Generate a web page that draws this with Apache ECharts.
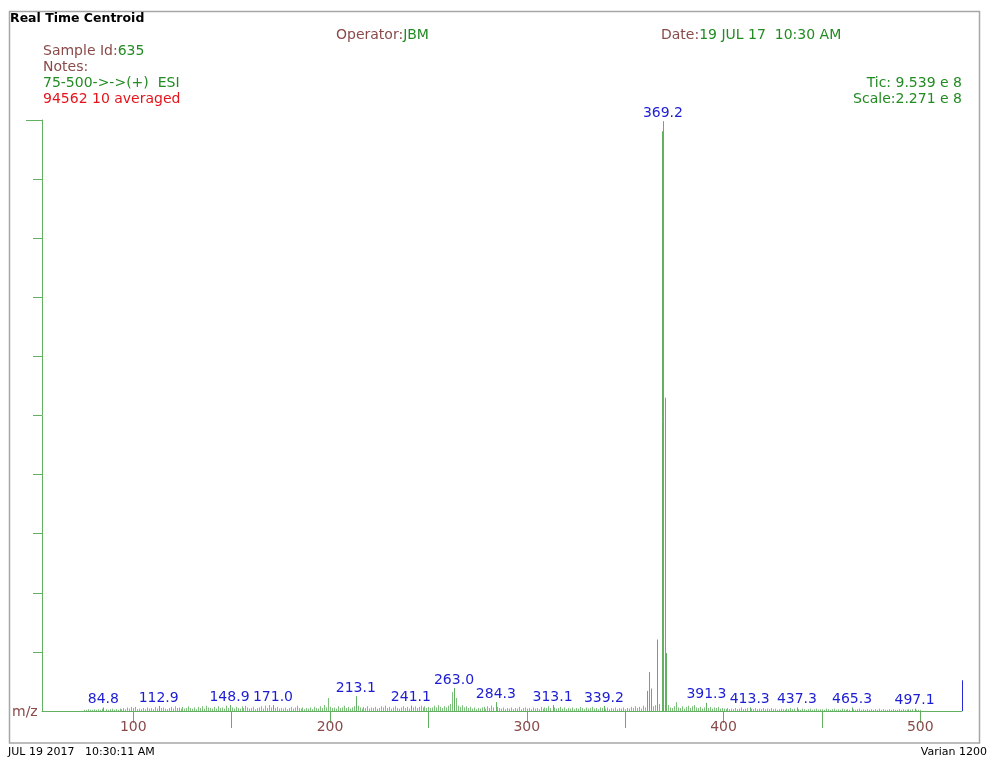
<!DOCTYPE html>
<html>
<head>
<meta charset="utf-8">
<script src="https://cdn.jsdelivr.net/npm/echarts@6/dist/echarts.min.js"></script>
<style>
  html, body { margin: 0; padding: 0; background: #fff; }
  #main { width: 988px; height: 759px; }
</style>
</head>
<body>
<div id="main"></div>
<script>
// Scan window shown on the m/z axis
const mzMin = 53.6;
const mzMax = 521.2;

// Labelled centroids: [m/z, % of full scale]
const labelledPeaks = [
  [84.8, 0.6], [112.9, 0.85], [148.9, 1.0], [171.0, 1.0], [213.1, 2.5],
  [241.1, 0.9], [263.0, 3.9], [284.3, 1.5], [313.1, 1.0], [339.2, 0.85],
  [369.2, 99.8], [391.3, 1.4], [413.3, 0.6], [437.3, 0.6], [465.3, 0.6], [497.1, 0.4]
];

// Unlabelled centroids around the base peak: [m/z, % of full scale]
const clusterPeaks = [
  [361.0, 3.4], [362.0, 6.6], [363.0, 3.8], [366.0, 12.1],
  [368.5, 98.1], [370.0, 53.0], [371.0, 9.8]
];

// Background centroids, one per nominal mass starting at noiseStart (% of full scale)
const noiseStart = 75;
const noise = [
  0.2,0.2,0.3,0.2,0.2,0.3,0.2,0.3,0.2,0.4,0,0.3,0.2,0.3,0.4,0.2,0.3,0.2,0.4,0.3,0.5,0.3,0.6,0.4,0.7,
  0.5,0.7,0.3,0.4,0.3,0.5,0.3,0.6,0.4,0.5,0.3,0.7,0.4,0,0.5,0.6,0.4,0.3,0.5,0.7,0.4,0.8,0.5,0.6,0.4,
  0.7,0.4,0.5,0.8,0.5,0.4,0.6,0.3,0.7,0.5,0.8,0.4,0.9,0.6,0.5,0.4,0.7,0.4,0.8,0.5,0.6,0.4,0.9,0.5,0,
  0.6,0.4,0.7,0.5,0.4,0.8,0.5,0.9,0.6,0.4,0.5,0.7,0.3,0.5,0.6,0.8,0.4,0.9,0.5,1.0,0.6,0,0.5,0.7,0.4,
  0.5,0.4,0.6,0.3,0.5,0.7,0.4,0.6,0.9,0.5,0.4,0.6,0.3,0.5,0.4,0.6,0.3,0.7,0.5,0.4,0.8,0.5,1.0,0.6,2.2,
  0.7,0.5,0.6,0.4,0.8,0.5,0.6,0.9,0.5,0.7,0.4,0.6,0.8,0,0.9,0.6,0.4,0.7,0.5,0.8,0.4,0.6,0.5,0.7,0.4,
  0.5,0.8,0.6,0.9,0.5,0.7,0.4,0.6,0.8,0.5,0.4,0.6,0.8,0.5,0.7,0.4,0,0.6,0.8,0.5,0.7,0.9,0.6,0.8,0.5,
  0.7,0.5,0.6,0.9,0.6,1.0,0.7,0.5,0.8,0.6,0.9,1.2,3.2,0,2.2,0.9,0.7,1.0,0.6,0.8,0.5,0.7,0.4,0.6,0.3,
  0.5,0.4,0.6,0.7,0.4,0.8,0.5,0.9,0.6,0,0.7,0.5,0.4,0.6,0.3,0.5,0.4,0.6,0.3,0.5,0.4,0.7,0.3,0.5,0.6,
  0.4,0.5,0.3,0.6,0.4,0.5,0.3,0.7,0.4,0.6,0.5,0.8,0.5,0,0.6,0.4,0.5,0.7,0.4,0.6,0.3,0.5,0.4,0.6,0.3,
  0.5,0.4,0.7,0.5,0.3,0.6,0.4,0.5,0.7,0.4,0.5,0.3,0.6,0.5,0,0.4,0.6,0.3,0.5,0.4,0.6,0.3,0.5,0.4,0.6,
  0.3,0.5,0.4,0.7,0.5,0.8,0.5,0.7,0.4,0.9,0.6,0,0,0,0.8,1.0,0,1.2,0,0,0,0,1.0,0.6,0.5,
  0.8,1.5,0.6,0.5,0.8,0.4,0.7,0.9,0.5,0.8,1.0,0.6,0.5,0.7,0.4,0.6,0,0.5,0.7,0.4,0.6,0.5,0.7,0.4,0.5,
  0.4,0.3,0.5,0.3,0.4,0.3,0.5,0.3,0.4,0.6,0.3,0.4,0.5,0,0.4,0.3,0.5,0.3,0.4,0.3,0.5,0.3,0.4,0.3,0.5,
  0.3,0.4,0.2,0.3,0.4,0.3,0.2,0.4,0.3,0.5,0.3,0.4,0,0.3,0.2,0.4,0.3,0.2,0.3,0.4,0.2,0.3,0.4,0.2,0.3,
  0.3,0.2,0.4,0.3,0.2,0.3,0.4,0.2,0.3,0.2,0.4,0.3,0.2,0.3,0.2,0,0.3,0.2,0.3,0.4,0.2,0.3,0.2,0.3,0.2,
  0.3,0.2,0.3,0.2,0.4,0.2,0.3,0.2,0.2,0.3,0.2,0.3,0.2,0.2,0.3,0.2,0.3,0.2,0.2,0.3,0.2,0.3,0,0.2,0.2,
  0.2
];

// End-of-range marker height (% of full scale)
const endMarker = [[mzMax, 5.2]];

// Axis ticks
const xMajorTicks = [100, 200, 300, 400, 500];
const xMidTicks = [150, 250, 350, 450];
const yTicks = [10, 20, 30, 40, 50, 60, 70, 80, 90];
const yTopTick = [100];

const BROWN = '#8a4a4a';
const GREEN_TXT = '#228b22';
const RED = '#e5141c';
const BLUE = '#1c1cd4';
const LINE_GREEN = '#62b062';
const NOISE_GREEN = '#7cc07c';
const FONT = '"DejaVu Sans", sans-serif';

const noiseData = noise
  .map((v, i) => [noiseStart + i, v])
  .filter(d => d[1] > 0);

function stickRenderer(color, withLabel) {
  return function (params, api) {
    const mz = api.value(0);
    const y = api.value(1);
    const p0 = api.coord([mz, 0]);
    const p1 = api.coord([mz, y]);
    const x = Math.round(p0[0]) + 0.5;
    const children = [{
      type: 'line',
      shape: { x1: x, y1: p0[1], x2: x, y2: p1[1] },
      style: { stroke: color, lineWidth: 1 }
    }];
    if (withLabel) {
      children.push({
        type: 'text',
        x: p0[0],
        y: p1[1] - 1,
        style: {
          text: mz.toFixed(1),
          fill: BLUE,
          font: '14px ' + FONT,
          align: 'center',
          verticalAlign: 'bottom'
        }
      });
    }
    return { type: 'group', children: children };
  };
}

const chart = echarts.init(document.getElementById('main'), null, { renderer: 'canvas' });

function line(left, top, rich, text, align) {
  const t = {
    text: text,
    top: top,
    padding: 0,
    textStyle: { fontFamily: FONT, fontSize: 14, fontWeight: 'normal', rich: rich }
  };
  if (align === 'right') t.right = left; else t.left = left;
  return t;
}

const richColors = {
  b: { color: BROWN, fontFamily: FONT, fontSize: 14 },
  g: { color: GREEN_TXT, fontFamily: FONT, fontSize: 14 },
  r: { color: RED, fontFamily: FONT, fontSize: 14 }
};

chart.setOption({
  animation: false,
  backgroundColor: '#fff',
  title: [
    { text: 'Real Time Centroid', left: 10, top: 12, padding: 0,
      textStyle: { fontFamily: FONT, fontSize: 12.5, fontWeight: 'bold', color: '#000' } },
    line(336, 28, richColors, '{b|Operator:}{g|JBM}'),
    line(661, 28, richColors, '{b|Date:}{g|19 JUL 17  10:30 AM}'),
    line(43, 44, richColors, '{b|Sample Id:}{g|635}'),
    line(43, 60, richColors, '{b|Notes:}'),
    line(43, 76, richColors, '{g|75-500->->(+)  ESI}'),
    line(43, 92, richColors, '{r|94562 10 averaged}'),
    line(26, 76, richColors, '{g|Tic: 9.539 e 8}', 'right'),
    line(26, 92, richColors, '{g|Scale:2.271 e 8}', 'right'),
    line(12, 705, richColors, '{b|m/z}'),
    { text: 'JUL 19 2017   10:30:11 AM', left: 8, top: 747, padding: 0,
      textStyle: { fontFamily: FONT, fontSize: 11, fontWeight: 'normal', color: '#000' } },
    { text: 'Varian 1200', right: 1, top: 747, padding: 0,
      textStyle: { fontFamily: FONT, fontSize: 11, fontWeight: 'normal', color: '#000' } }
  ],
  graphic: [{
    type: 'rect',
    shape: { x: 9.5, y: 11.5, width: 970, height: 731.5 },
    style: { fill: 'none', stroke: '#a6a6a6', lineWidth: 1.5 },
    silent: true,
    z: -1
  }],
  grid: { left: 42, right: 26, top: 120, bottom: 48, containLabel: false },
  xAxis: [{
    type: 'value',
    min: mzMin,
    max: mzMax,
    position: 'bottom',
    axisLine: { show: true, lineStyle: { color: LINE_GREEN, width: 1 } },
    axisTick: { show: true, customValues: xMajorTicks, length: 12, lineStyle: { color: LINE_GREEN } },
    axisLabel: { show: true, customValues: xMajorTicks, color: BROWN, fontFamily: FONT, fontSize: 14, margin: 9 },
    splitLine: { show: false }
  }, {
    type: 'value',
    min: mzMin,
    max: mzMax,
    position: 'bottom',
    axisLine: { show: false },
    axisTick: { show: true, customValues: xMidTicks, length: 17, lineStyle: { color: LINE_GREEN } },
    axisLabel: { show: false },
    splitLine: { show: false }
  }],
  yAxis: [{
    type: 'value',
    min: 0,
    max: 100,
    position: 'left',
    axisLine: { show: true, lineStyle: { color: LINE_GREEN, width: 1 } },
    axisTick: { show: true, customValues: yTicks, length: 9, lineStyle: { color: LINE_GREEN } },
    axisLabel: { show: false },
    splitLine: { show: false }
  }, {
    type: 'value',
    min: 0,
    max: 100,
    position: 'left',
    axisLine: { show: false },
    axisTick: { show: true, customValues: yTopTick, length: 16, lineStyle: { color: LINE_GREEN } },
    axisLabel: { show: false },
    splitLine: { show: false }
  }],
  series: [{
    type: 'custom',
    name: 'background',
    renderItem: stickRenderer(NOISE_GREEN, false),
    data: noiseData,
    encode: { x: 0, y: 1 },
    silent: true
  }, {
    type: 'custom',
    name: 'cluster',
    renderItem: stickRenderer(LINE_GREEN, false),
    data: clusterPeaks,
    encode: { x: 0, y: 1 },
    silent: true
  }, {
    type: 'custom',
    name: 'labelled',
    renderItem: stickRenderer(LINE_GREEN, true),
    data: labelledPeaks,
    encode: { x: 0, y: 1 },
    silent: true
  }, {
    type: 'custom',
    name: 'end',
    renderItem: stickRenderer('#2828d8', false),
    data: endMarker,
    encode: { x: 0, y: 1 },
    silent: true
  }]
});
</script>
</body>
</html>
